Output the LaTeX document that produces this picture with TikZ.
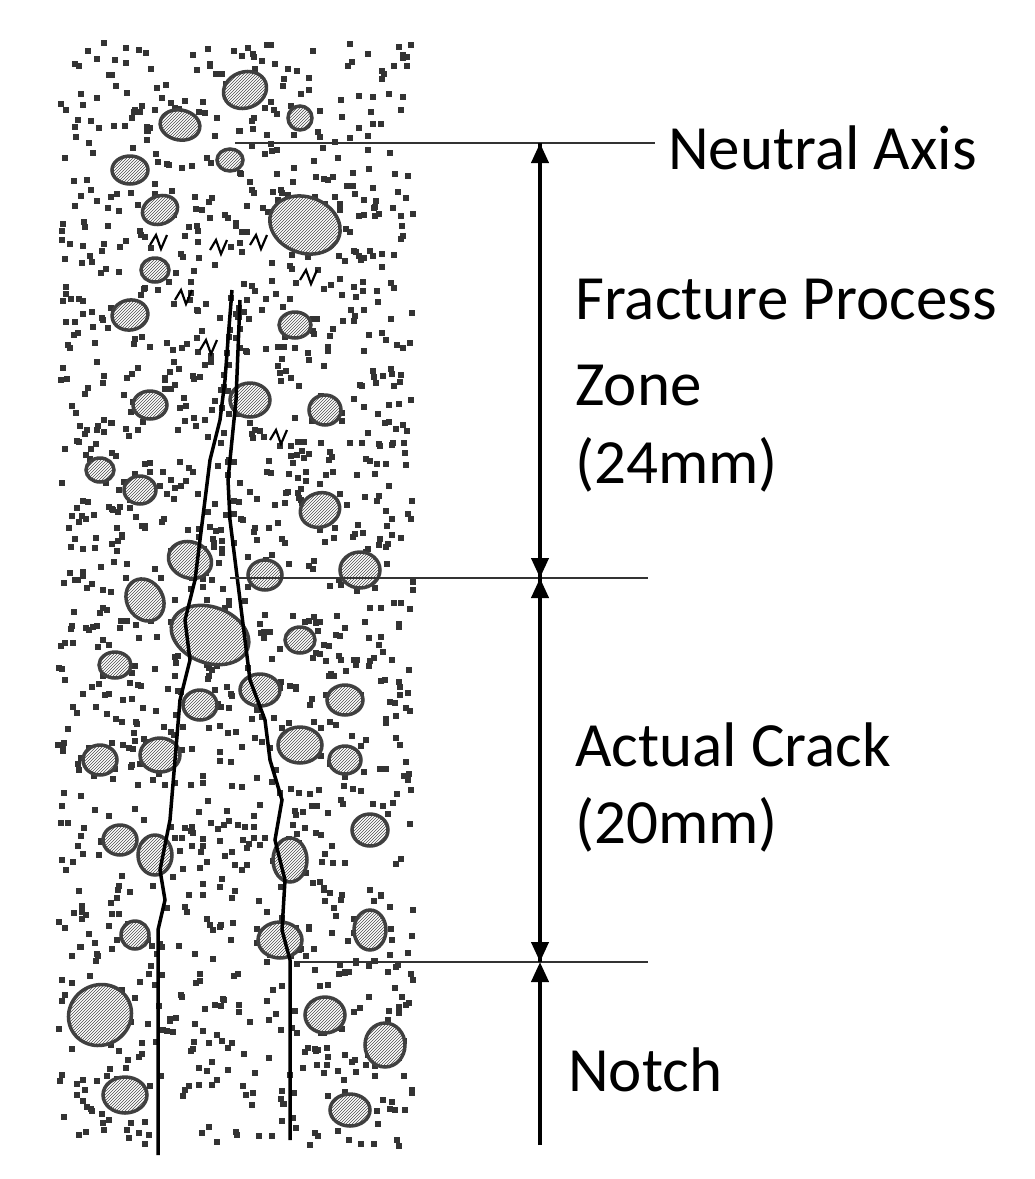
\documentclass[tikz,border=0pt]{standalone}
\usepackage{fontspec}
\setmainfont{Carlito}
\usetikzlibrary{patterns,arrows.meta}
\begin{document}
\begin{tikzpicture}[x=1pt,y=-1pt,
  agg/.style={draw=black!75,line width=3.5pt,preaction={fill=white},pattern=north east lines,pattern color=black!70},
  dim/.style={line width=4pt,-{Triangle[length=20pt,width=17pt]}},
  ref/.style={line width=2.2pt,black!80},
  lab/.style={anchor=west,inner sep=0pt,font=\fontsize{63}{72}\selectfont}]
\useasboundingbox (0,0) rectangle (1035,1179);
% dots
\pgfmathsetseed{7}
\foreach \i in {1,...,1500}{
  \pgfmathsetmacro{\yy}{40+rnd*1105}
  \pgfmathsetmacro{\xx}{55+rnd*355}
  \fill[black!80] (\xx,\yy) rectangle ++(6,6);
}
% aggregates
\foreach \x/\y/\a/\b/\r in {245/90/22/18/20,180/125/20/15/-10,300/118/12/12/0,130/170/18/14/0,230/160/13/11/0,160/210/18/14/20,305/225/36/28/-20,155/270/14/12/0,130/315/18/15/10,295/325/16/13/0,250/400/20/17/0,325/410/16/15/0,150/405/17/14/0,100/470/14/12/0,140/490/16/14/0,320/510/20/17/20,190/560/22/18/-20,265/575/17/15/0,360/570/20/18/0,145/600/18/22/30,210/635/40/28/-20,300/640/15/13/0,115/665/16/13/0,260/690/20/16/0,345/700/18/15/0,200/705/17/15/0,160/755/20/17/0,300/745/22/18/0,100/760/17/15/0,345/760/16/14/0,120/840/17/15/0,155/855/17/20/0,290/860/17/22/0,370/830/18/16/0,370/930/16/20/0,135/935/14/14/0,280/940/22/18/0,100/1015/32/30/30,325/1015/20/18/0,385/1045/20/22/0,125/1095/22/18/0,350/1110/20/16/0}
  \draw[agg,rotate around={\r:(\x,\y)}] (\x,\y) ellipse ({\a} and {\b});
% crack
\draw[line width=3.5pt] (158,1155)--(158,930)--(165,900)--(160,870)--(170,820)--(175,760)--(180,700)--(190,660)--(185,620)--(195,580)--(200,540)--(205,500)--(210,460)--(220,420)--(225,380)--(228,340)--(232,290);
\draw[line width=3.5pt] (290,1140)--(290,960)--(282,930)--(285,880)--(275,840)--(282,800)--(270,760)--(265,720)--(250,680)--(245,640)--(240,600)--(235,560)--(230,520)--(228,480)--(232,440)--(236,400)--(238,350)--(240,300);
\foreach \x/\y in {150/245,210/250,250/245,175/300,270/440,200/350,300/280}
  \draw[line width=2.2pt] (\x,\y)--++(6,-10)--++(5,14)--++(6,-14);
% dimension lines
\draw[ref] (235,143)--(655,143);
\draw[ref] (230,578)--(648,578);
\draw[ref] (295,962)--(648,962);
\coordinate (t) at (540,143); \coordinate (m) at (540,578);
\coordinate (n) at (540,962); \coordinate (b) at (540,1145);
\draw[dim] (m)--(t); \draw[dim] (t)--(m);
\draw[dim] (n)--(m); \draw[dim] (m)--(n);
\draw[dim] (b)--(n);
\node[lab] (na) at (668,148) {Neutral Axis};
\node[lab] (f1) at (575,300) {Fracture Process};
\node[lab] (f2) at (575,385) {Zone};
\node[lab] (f3) at (575,465) {(24mm)};
\node[lab] (a1) at (575,745) {Actual Crack};
\node[lab] (a2) at (575,825) {(20mm)};
\node[lab] (no) at (568,1070) {Notch};
\end{tikzpicture}
\end{document}
